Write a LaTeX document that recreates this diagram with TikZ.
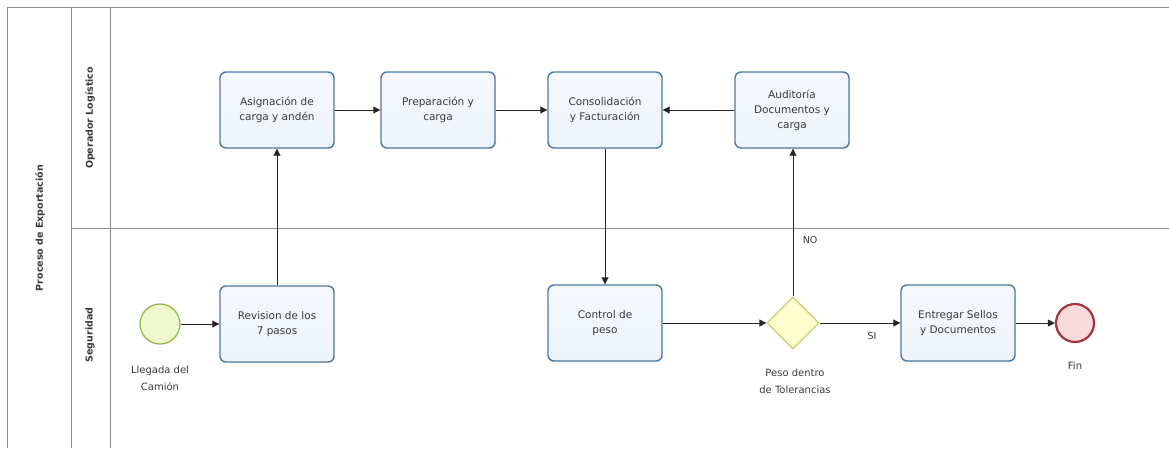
\documentclass[tikz,border=0pt]{standalone}
\usepackage{fontspec}
\setmainfont{DejaVu Sans}
\usetikzlibrary{shapes.geometric,arrows.meta,shadows}
\definecolor{taskline}{HTML}{4A7BA6}
\definecolor{taskfill}{HTML}{EEF4FC}
\definecolor{startline}{HTML}{8FB84E}
\definecolor{startfill}{HTML}{EEF8CC}
\definecolor{endline}{HTML}{A3343C}
\definecolor{endfill}{HTML}{F7DADB}
\definecolor{gateline}{HTML}{C9D06A}
\definecolor{gatefill}{HTML}{FFFFD2}
\definecolor{txt}{HTML}{3A3A3A}
\definecolor{frame}{HTML}{8C8C8C}
\tikzset{
  task/.style={draw=taskline, line width=1.4pt, rounded corners=6pt, top color=taskfill!60!white, bottom color=taskfill,
    minimum width=114pt, minimum height=76pt, align=center, text=txt, font=\fontsize{10.5}{15}\selectfont,
    drop shadow={shadow xshift=1pt, shadow yshift=-1pt, opacity=0.15}},
  startev/.style={circle, draw=startline, line width=1.3pt, fill=startfill, minimum size=40pt, inner sep=0pt},
  endev/.style={circle, draw=endline, line width=2.2pt, fill=endfill, minimum size=38pt, inner sep=0pt},
  gate/.style={diamond, draw=gateline, line width=1.3pt, fill=gatefill, minimum width=52pt, minimum height=52pt, inner sep=0pt},
  lbl/.style={text=txt, align=center, font=\fontsize{10}{17}\selectfont},
  flowlbl/.style={text=txt, font=\fontsize{9.5}{11}\selectfont},
  lanelbl/.style={text=txt, rotate=90, font=\bfseries\fontsize{9.5}{11}\selectfont},
  flow/.style={draw=black!85, line width=0.9pt, -{Triangle[length=7pt,width=7pt]}},
  lane/.style={draw=frame, line width=1pt}
}
\begin{document}
\begin{tikzpicture}[x=1pt,y=-1pt]
\useasboundingbox (0,0) rectangle (1169,448);
\fill[white] (0,0) rectangle (1169,448);
% pool and lane frame
\draw[lane] (7,448) -- (7,7) -- (1169,7);
\draw[lane] (71,7) -- (71,448);
\draw[lane] (110,7) -- (110,448);
\draw[lane] (71,228) -- (1169,228);
\node[lanelbl] (pool) at (40,228) {Proceso de Exportación};
\node[lanelbl] (lane1) at (90,118) {Operador Logístico};
\node[lanelbl] (lane2) at (90,335) {Seguridad};
% tasks
\node[task] (asig) at (277,110) {Asignación de\\carga y andén};
\node[task] (prep) at (438,110) {Preparación y\\carga};
\node[task] (cons) at (605,110) {Consolidación\\y Facturación};
\node[task] (aud) at (792,110) {Auditoría\\Documentos y\\carga};
\node[task] (rev) at (277,324) {Revision de los\\7 pasos};
\node[task] (ctrl) at (605,323) {Control de\\peso};
\node[task] (ent) at (958,323) {Entregar Sellos\\y Documentos};
% events and gateway
\node[startev] (start) at (160,324) {};
\node[lbl] (startl) at (160,378) {Llegada del\\Camión};
\node[gate] (gw) at (793,323) {};
\node[lbl] (gwl) at (795,381) {Peso dentro\\de Tolerancias};
\node[endev] (fin) at (1075,323) {};
\node[lbl] (finl) at (1075,366) {Fin};
% sequence flows
\draw[flow] (start) -- (rev);
\draw[flow] (rev) -- (asig);
\draw[flow] (asig) -- (prep);
\draw[flow] (prep) -- (cons);
\draw[flow] (aud) -- (cons);
\draw[flow] (cons) -- (ctrl);
\draw[flow] (ctrl) -- (gw);
\draw[flow] (gw.north) -- node[flowlbl, pos=0.38, right=6pt] {NO} (aud.south -| gw.north);
\draw[flow] (gw.east) -- node[flowlbl, pos=0.65, below=6pt] {SI} (ent);
\draw[flow] (ent) -- (fin);
\end{tikzpicture}
\end{document}
